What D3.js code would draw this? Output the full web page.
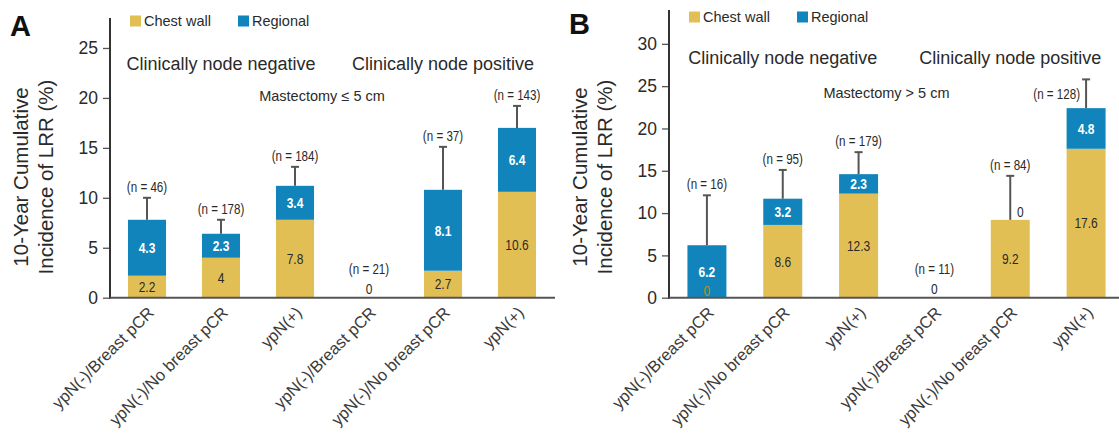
<!DOCTYPE html>
<html>
<head>
<meta charset="utf-8">
<script src="https://cdn.jsdelivr.net/npm/d3@7"></script>
<style>
  body { margin: 0; background: #fff; }
  svg { display: block; font-family: "Liberation Sans", Arial, sans-serif; }
</style>
</head>
<body>
<svg width="1119" height="441"></svg>
<script>
const categories = ["ypN(-)/Breast pCR", "ypN(-)/No breast pCR", "ypN(+)",
                    "ypN(-)/Breast pCR", "ypN(-)/No breast pCR", "ypN(+)"];

// panel A: mastectomy <= 5 cm
const chestWallA = [2.2, 4, 7.8, 0, 2.7, 10.6];
const regionalA  = [4.3, 2.3, 3.4, 0, 8.1, 6.4];
const totalA     = [7.8, 6.4, 11.2, 0, 10.8, 17.0];
const errUpperA  = [10.0, 7.8, 13.1, null, 15.1, 19.2];
const nA         = [46, 178, 184, 21, 37, 143];
const ticksA     = [0, 5, 10, 15, 20, 25];

// panel B: mastectomy > 5 cm
const chestWallB = [0, 8.6, 12.3, 0, 9.2, 17.6];
const regionalB  = [6.2, 3.2, 2.3, 0, 0, 4.8];
const totalB     = [6.2, 11.7, 14.6, 0, 9.2, 22.4];
const errUpperB  = [12.1, 15.1, 17.2, null, 14.4, 25.8];
const nB         = [16, 95, 179, 11, 84, 128];
const ticksB     = [0, 5, 10, 15, 20, 25, 30];

const groupTitles = ["Clinically node negative", "Clinically node positive"];

const yellow = "#e2bf55";
const blue = "#1184bb";
const ink = "#2a2a2a";

const svg = d3.select("svg");

// condensed look: squeeze text horizontally
function narrowText(g, xx, yy, txt, size, anchor) {
  return g.append("text")
    .attr("transform", `translate(${xx},${yy}) scale(0.8,1)`)
    .attr("dy", "0.35em").attr("text-anchor", anchor || "middle")
    .attr("font-size", size).text(txt);
}

function drawPanel(p) {
  const g = svg.append("g");
  const y0 = 297.7;

  const y = d3.scaleLinear().domain([0, p.yMax]).range([y0, p.yTop]);
  const x = d3.scaleBand()
    .domain(d3.range(categories.length))
    .range([p.axisX, p.xEnd])
    .paddingInner(0.486)
    .paddingOuter(0.243);
  const cx = i => x(i) + x.bandwidth() / 2;

  const rows = categories.map((c, i) => ({
    i, cat: c, chest: p.chest[i], reg: p.reg[i], total: p.total[i],
    err: p.err[i], n: p.n[i]
  }));

  // panel letter
  g.append("text").attr("x", p.axisX - 100).attr("y", p.letterY)
    .attr("font-size", 29).attr("font-weight", "bold").attr("fill", "#111")
    .text(p.letter);

  // y title
  const yt = g.append("text")
    .attr("transform", `translate(${p.axisX - 82},177) rotate(-90)`)
    .attr("text-anchor", "middle").attr("font-size", 20.5).attr("fill", ink);
  yt.append("tspan").attr("x", 0).attr("y", 0).text("10-Year Cumulative");
  yt.append("tspan").attr("x", 0).attr("y", 25).text("Incidence of LRR (%)");

  // legend
  const leg = g.append("g").attr("transform", `translate(${p.axisX + 20},${p.legendY})`);
  [["Chest wall", yellow, 0], ["Regional", blue, 108]].forEach(([lab, col, dx]) => {
    leg.append("rect").attr("x", dx).attr("y", -5.5).attr("width", 11).attr("height", 11).attr("fill", col);
    leg.append("text").attr("x", dx + 14).attr("y", 0).attr("dy", "0.35em")
      .attr("font-size", 14.5).attr("fill", ink).text(lab);
  });

  // group titles
  [1, 4].forEach((k, j) => {
    g.append("text").attr("x", cx(k)).attr("y", p.titleY).attr("dy", "0.35em")
      .attr("text-anchor", "middle").attr("font-size", 18).attr("fill", ink)
      .text(groupTitles[j]);
  });
  g.append("text").attr("x", (p.axisX + p.xEnd) / 2 - 10).attr("y", p.subY).attr("dy", "0.35em")
    .attr("text-anchor", "middle").attr("font-size", 14.5).attr("fill", ink)
    .text(p.sub);

  // bars
  g.selectAll(".cw").data(rows.filter(d => d.chest > 0)).join("rect")
    .attr("x", d => x(d.i)).attr("width", x.bandwidth())
    .attr("y", d => y(d.chest)).attr("height", d => y(0) - y(d.chest))
    .attr("fill", yellow);
  g.selectAll(".rg").data(rows.filter(d => d.total > d.chest)).join("rect")
    .attr("x", d => x(d.i)).attr("width", x.bandwidth())
    .attr("y", d => y(d.total)).attr("height", d => y(d.chest) - y(d.total))
    .attr("fill", blue);

  // error bars
  const eb = rows.filter(d => d.err != null);
  g.selectAll(".ev").data(eb).join("line")
    .attr("x1", d => cx(d.i)).attr("x2", d => cx(d.i))
    .attr("y1", d => y(d.total)).attr("y2", d => y(d.err))
    .attr("stroke", "#555").attr("stroke-width", 2);
  g.selectAll(".ec").data(eb).join("line")
    .attr("x1", d => cx(d.i) - 4).attr("x2", d => cx(d.i) + 4)
    .attr("y1", d => y(d.err)).attr("y2", d => y(d.err))
    .attr("stroke", "#555").attr("stroke-width", 2);

  // n labels
  rows.forEach(d => {
    let t;
    if (d.err == null) {
      t = narrowText(g, cx(d.i), y0 - 29, `(n = ${d.n})`, 14.5);
    } else if (d.err > p.yMax * 0.72) {
      t = narrowText(g, cx(d.i) - 6, y(d.err) + 15, `(n = ${d.n})`, 14.5, "end");
    } else {
      t = narrowText(g, cx(d.i), y(d.err) - 11, `(n = ${d.n})`, 14.5);
    }
    t.attr("fill", ink);
  });

  // segment value labels
  rows.forEach(d => {
    const lab = (txt, xx, yy, col, bold) => narrowText(g, xx, yy, txt, 15)
      .attr("font-weight", bold ? "bold" : "normal").attr("fill", col);
    if (d.chest > 0) {
      lab(d.chest, cx(d.i), (y(0) + y(d.chest)) / 2, ink, false);
    } else if (d.total > 0) {
      lab("0", cx(d.i), y0 - 7, "#b98a2a", false);
    } else {
      lab("0", cx(d.i), y0 - 9, ink, false);
    }
    if (d.total > d.chest) {
      lab(d.reg, cx(d.i), (y(d.chest) + y(d.total)) / 2, "#fff", true);
    } else if (d.chest > 0) {
      lab("0", cx(d.i) + 10, y(d.chest) - 8, ink, false);
    }
  });

  // axes
  const ya = g.append("g").attr("transform", `translate(${p.axisX},0)`)
    .call(d3.axisLeft(y).tickValues(p.ticks).tickSize(7).tickPadding(5).tickFormat(d3.format("d")));
  ya.select(".domain").remove();
  ya.selectAll(".tick line").attr("stroke", "#555").attr("stroke-width", 1.3);
  ya.selectAll(".tick text").attr("font-size", 17.5).attr("fill", ink)
    .attr("font-family", "'Liberation Sans', Arial, sans-serif");
  g.append("line").attr("x1", p.axisX).attr("x2", p.axisX)
    .attr("y1", y(p.yMax)).attr("y2", y0 + 1)
    .attr("stroke", "#333").attr("stroke-width", 2);

  const xa = g.append("g").attr("transform", `translate(0,${y0})`)
    .call(d3.axisBottom(x).tickSize(0).tickFormat(i => categories[i]));
  xa.select(".domain").remove();
  xa.selectAll(".tick text")
    .attr("font-size", 16.5).attr("fill", "#3a3a3a")
    .attr("text-anchor", "end")
    .attr("font-family", "'Liberation Sans', Arial, sans-serif")
    .attr("dy", 0).attr("y", 0)
    .attr("transform", "translate(8,16) rotate(-45)");
  g.append("line").attr("x1", p.axisX).attr("x2", p.lineEnd)
    .attr("y1", y0).attr("y2", y0)
    .attr("stroke", "#555").attr("stroke-width", 2);
}

drawPanel({
  letter: "A", letterY: 36, axisX: 110, xEnd: 554, lineEnd: 555,
  yMax: 28, yTop: 18, ticks: ticksA,
  chest: chestWallA, reg: regionalA, total: totalA, err: errUpperA, n: nA,
  legendY: 21, titleY: 64, subY: 96, sub: "Mastectomy \u2264 5 cm"
});

drawPanel({
  letter: "B", letterY: 34, axisX: 669, xEnd: 1124, lineEnd: 1119,
  yMax: 34, yTop: 10, ticks: ticksB,
  chest: chestWallB, reg: regionalB, total: totalB, err: errUpperB, n: nB,
  legendY: 17, titleY: 58, subY: 93, sub: "Mastectomy > 5 cm"
});
</script>
</body>
</html>
